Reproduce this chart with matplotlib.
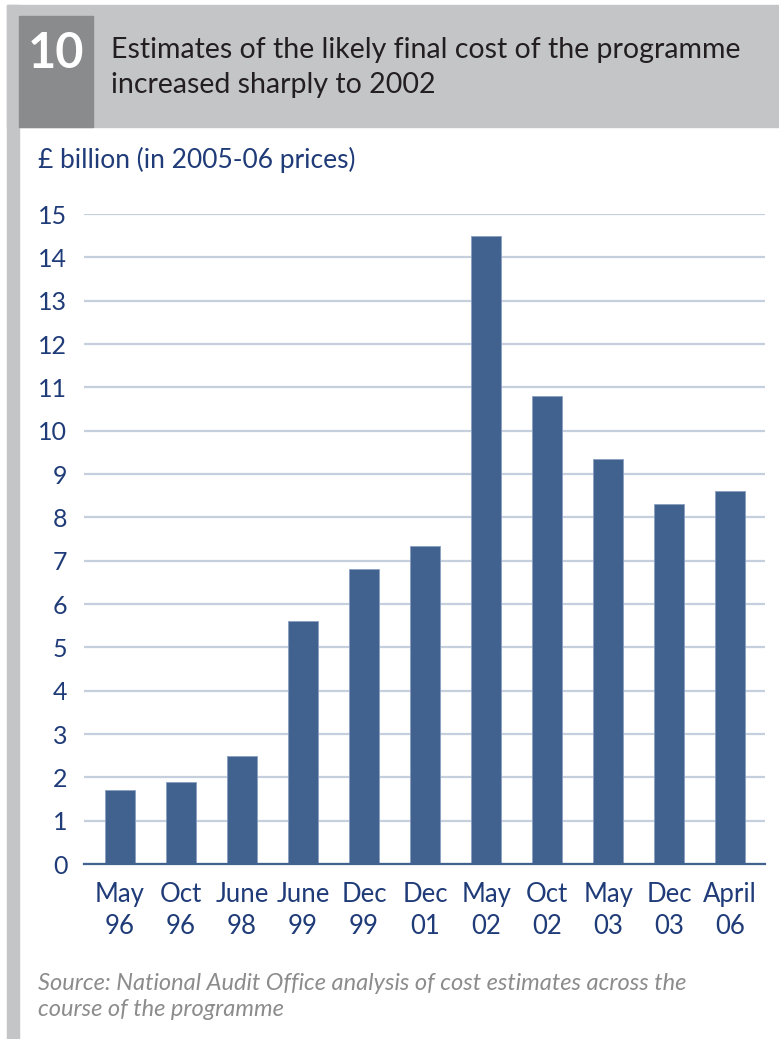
import matplotlib.pyplot as plt
from matplotlib.patches import Rectangle

# data
dates = ['May\n96', 'Oct\n96', 'June\n98', 'June\n99', 'Dec\n99', 'Dec\n01',
         'May\n02', 'Oct\n02', 'May\n03', 'Dec\n03', 'April\n06']
cost = [1.7, 1.9, 2.5, 5.6, 6.8, 7.35, 14.5, 10.8, 9.35, 8.3, 8.6]
yticks = list(range(0, 16))

navy = '#41618f'
text_blue = '#1f3b78'
grid_col = '#c5cfdd'
light_grey = '#c4c5c7'
dark_grey = '#8a8b8d'

plt.rcParams['font.family'] = ['Lato', 'DejaVu Sans']

W, H = 779, 1039
fig = plt.figure(figsize=(W / 100, H / 100), dpi=100)

# header band, dark number box and left border
fig.patches.append(Rectangle((7 / W, 1 - 127 / H), (W - 7) / W, 122 / H,
                             transform=fig.transFigure, color=light_grey, zorder=0))
fig.patches.append(Rectangle((7 / W, 0), 12 / W, 1 - 5 / H,
                             transform=fig.transFigure, color=light_grey, zorder=0))
fig.patches.append(Rectangle((19 / W, 1 - 127 / H), 74 / W, 111 / H,
                             transform=fig.transFigure, color=dark_grey, zorder=1))

fig.text(56 / W, 1 - 54 / H, '10', color='white', fontsize=35, fontweight='bold',
         ha='center', va='center')
fig.text(111 / W, 1 - 50 / H, 'Estimates of the likely final cost of the programme',
         color='#231f20', fontsize=20.5, ha='left', va='center')
fig.text(111 / W, 1 - 85 / H, 'increased sharply to 2002',
         color='#231f20', fontsize=20.5, ha='left', va='center')

fig.text(38 / W, 1 - 160 / H, '£ billion (in 2005-06 prices)', color=text_blue,
         fontsize=19, ha='left', va='center')

ax = fig.add_axes([84 / W, 1 - 864 / H, (765 - 84) / W, (864 - 214) / H])
x = range(len(cost))
ax.bar(x, cost, width=0.49, color=navy, edgecolor='#8a9fc0', linewidth=0.6, zorder=3)
ax.set_xlim(-0.59, 10.57)
ax.set_ylim(0, 15)
ax.set_yticks(yticks)
ax.yaxis.grid(True, color=grid_col, linewidth=1.6, zorder=0)
ax.set_axisbelow(True)
for s in ['top', 'right', 'left']:
    ax.spines[s].set_visible(False)
ax.spines['bottom'].set_color(navy)
ax.spines['bottom'].set_linewidth(1.6)
ax.spines['bottom'].set_zorder(4)
ax.set_xticks(list(x))
ax.set_xticklabels(dates, linespacing=1.35)
ax.tick_params(axis='y', length=0, pad=12, labelsize=18, labelcolor=text_blue)
ax.tick_params(axis='x', length=0, pad=13, labelsize=18.5, labelcolor=text_blue)

fig.text(38 / W, 1 - 983 / H, 'Source: National Audit Office analysis of cost estimates across the',
         color='#8c8c8c', fontsize=17, style='italic', ha='left', va='center')
fig.text(38 / W, 1 - 1010 / H, 'course of the programme',
         color='#8c8c8c', fontsize=17, style='italic', ha='left', va='center')

fig.savefig('out.png', dpi=100)
